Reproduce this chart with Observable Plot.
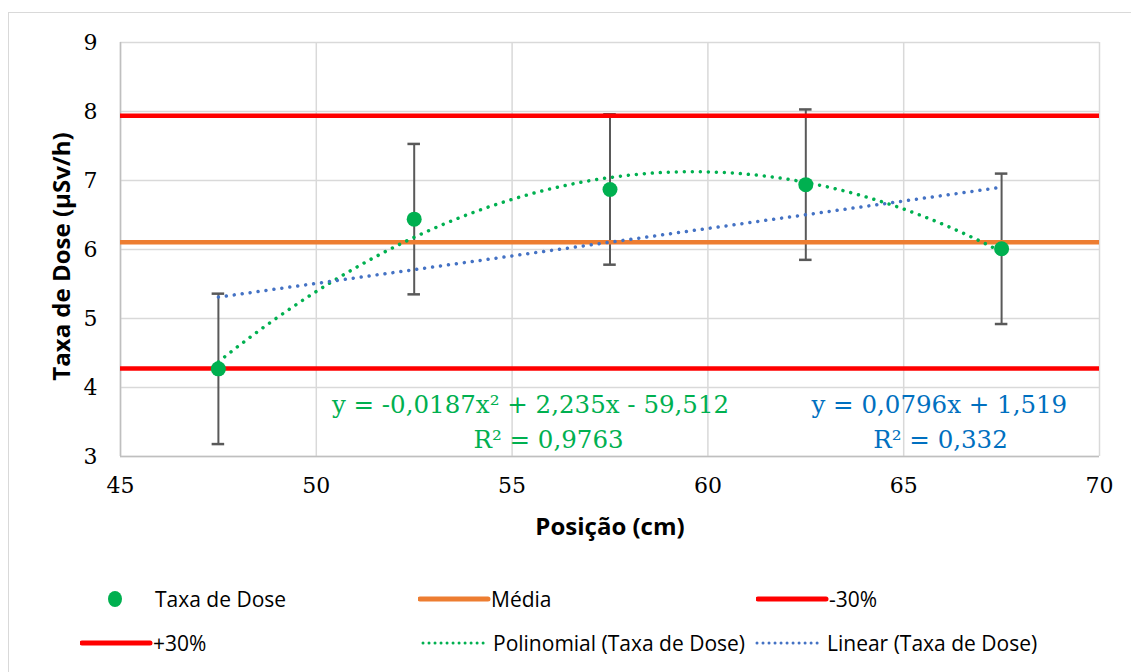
<!DOCTYPE html>
<html><head><meta charset="utf-8">
<script src="https://cdn.jsdelivr.net/npm/d3@7"></script>
<script src="https://cdn.jsdelivr.net/npm/@observablehq/plot@0.6"></script>
<style>
body{margin:0;background:#fff;overflow:hidden;width:1131px;height:672px;position:relative;}
#frame{position:absolute;left:8px;top:12px;width:1200px;height:700px;border:1px solid #d9d9d9;box-sizing:border-box}
#chart{position:absolute;left:0;top:0}
.item{position:absolute;display:flex;align-items:center;font-family:"Open Sans",sans-serif;font-size:21px;color:#000;white-space:nowrap;height:30px;transform:translateY(-50%)}
.item svg{display:block}
</style></head><body>
<div id="frame"></div><div id="chart"></div><div id="legend"></div>
<script>
// Data
const positions = [47.5, 52.5, 57.5, 62.5, 67.5];
const doseRates = [4.27, 6.44, 6.87, 6.94, 6.01];
const errorBars = [1.09, 1.09, 1.09, 1.09, 1.09];
const xTicks = [45, 50, 55, 60, 65, 70];
const yTicks = [3, 4, 5, 6, 7, 8, 9];
const polyEquation = "y = -0,0187x² + 2,235x - 59,512";
const polyR2 = "R² = 0,9763";
const linEquation = "y = 0,0796x + 1,519";
const linR2 = "R² = 0,332";
const legendLabels = ["Taxa de Dose", "Média", "-30%", "+30%", "Polinomial (Taxa de Dose)", "Linear (Taxa de Dose)"];

const data = positions.map((x, i) => ({x, y: doseRates[i], e: errorBars[i]}));
const mean = d3.mean(doseRates);
const minus30 = mean * 0.7, plus30 = mean * 1.3;

// least squares quadratic fit (as the chart's polynomial trendline)
function polyfit(xs, ys, deg) {
  const n = deg + 1;
  const A = Array.from({length: n}, () => new Array(n + 1).fill(0));
  for (let k = 0; k < xs.length; k++) {
    for (let i = 0; i < n; i++) {
      for (let j = 0; j < n; j++) A[i][j] += Math.pow(xs[k], i + j);
      A[i][n] += ys[k] * Math.pow(xs[k], i);
    }
  }
  for (let i = 0; i < n; i++) {
    let p = i;
    for (let r = i + 1; r < n; r++) if (Math.abs(A[r][i]) > Math.abs(A[p][i])) p = r;
    [A[i], A[p]] = [A[p], A[i]];
    for (let r = 0; r < n; r++) {
      if (r === i) continue;
      const f = A[r][i] / A[i][i];
      for (let c = i; c <= n; c++) A[r][c] -= f * A[i][c];
    }
  }
  return A.map((row, i) => row[n] / row[i]);
}
const coef = polyfit(positions, doseRates, 2);
const polyCurve = d3.range(d3.min(positions), d3.max(positions) + 1e-9, 0.1)
  .map(x => ({x, y: coef[0] + coef[1] * x + coef[2] * x * x}));

const GREEN = "#00b050", ORANGE = "#ed7d31", RED = "#ff0000", BLUE = "#4472c4", EQBLUE = "#0070c0";
const SERIF = "DejaVu Serif";

const chart = Plot.plot({
  width: 1131,
  height: 560,
  marginLeft: 120,
  marginRight: 32,
  marginTop: 42,
  marginBottom: 104,
  style: {fontFamily: SERIF, fontSize: "22px", color: "#000", background: "transparent"},
  x: {domain: [45, 70]},
  y: {domain: [3, 9]},
  marks: [
    Plot.gridX(xTicks, {stroke: "#d9d9d9", strokeOpacity: 1, strokeWidth: 1.5}),
    Plot.gridY(yTicks, {stroke: "#d9d9d9", strokeOpacity: 1, strokeWidth: 1.5}),
    Plot.ruleX([45], {stroke: "#bfbfbf", strokeWidth: 1.5}),
    Plot.ruleY([3], {stroke: "#bfbfbf", strokeWidth: 1.5}),
    Plot.axisX(xTicks, {tickSize: 0, tickPadding: 21, label: null, fontSize: 22, fontFamily: SERIF, tickFormat: d => String(d)}),
    Plot.axisY(yTicks, {tickSize: 0, tickPadding: 23, label: null, fontSize: 22, fontFamily: SERIF, tickFormat: d => String(d)}),
    // error bars
    Plot.ruleX(data, {x: "x", y1: d => d.y - d.e, y2: d => d.y + d.e, stroke: "#595959", strokeWidth: 2}),
    Plot.ruleY(data, {y: d => d.y - d.e, x1: d => d.x - 0.16, x2: d => d.x + 0.16, stroke: "#595959", strokeWidth: 2.5}),
    Plot.ruleY(data, {y: d => d.y + d.e, x1: d => d.x - 0.16, x2: d => d.x + 0.16, stroke: "#595959", strokeWidth: 2.5}),
    // mean and ±30%
    Plot.ruleY([mean], {stroke: ORANGE, strokeWidth: 4.5}),
    Plot.ruleY([minus30], {stroke: RED, strokeWidth: 4.5}),
    Plot.ruleY([plus30], {stroke: RED, strokeWidth: 4.5}),
    // points
    Plot.dot(data, {x: "x", y: "y", r: 7.5, fill: GREEN}),
    // trendlines
    Plot.line(polyCurve, {x: "x", y: "y", stroke: GREEN, strokeWidth: 3.5, strokeDasharray: "0.01 8", strokeLinecap: "round"}),
    Plot.linearRegressionY(data, {x: "x", y: "y", stroke: BLUE, strokeWidth: 3.5, strokeDasharray: "0.01 8", strokeLinecap: "round", ci: 0}),
    // trendline labels
    Plot.text([polyEquation], {x: 55.47, y: 3.74, text: d => d, fill: GREEN, fontSize: 24.5, fontFamily: SERIF}),
    Plot.text([polyR2], {x: 55.93, y: 3.23, text: d => d, fill: GREEN, fontSize: 24.5, fontFamily: SERIF}),
    Plot.text([linEquation], {x: 65.91, y: 3.74, text: d => d, fill: EQBLUE, fontSize: 24.5, fontFamily: SERIF}),
    Plot.text([linR2], {x: 65.94, y: 3.23, text: d => d, fill: EQBLUE, fontSize: 24.5, fontFamily: SERIF}),
    // axis titles
    Plot.text(["Posição (cm)"], {frameAnchor: "bottom", dy: 71, text: d => d, fontFamily: "Open Sans", fontWeight: "bold", fontSize: 24, fill: "#000", lineAnchor: "middle"}),
    Plot.text(["Taxa de Dose (µSv/h)"], {frameAnchor: "left", dx: -58, dy: 7, rotate: -90, textAnchor: "middle", lineAnchor: "middle", text: d => d, fontFamily: "Open Sans", fontWeight: "bold", fontSize: 24, fill: "#000"})
  ]
});
document.getElementById("chart").appendChild(chart);

// HTML legend
const legend = document.getElementById("legend");
const swatches = [
  {label: legendLabels[0], left: 107, top: 599, kind: "dot", color: GREEN},
  {label: legendLabels[1], left: 418, top: 599, kind: "line", color: ORANGE},
  {label: legendLabels[2], left: 756, top: 599, kind: "line", color: RED},
  {label: legendLabels[3], left: 80, top: 643, kind: "line", color: RED},
  {label: legendLabels[4], left: 420, top: 643, kind: "dots", color: GREEN},
  {label: legendLabels[5], left: 754, top: 643, kind: "dots", color: BLUE}
];
for (const s of swatches) {
  const div = document.createElement("div");
  div.className = "item";
  div.style.left = s.left + "px";
  div.style.top = s.top + "px";
  let svg;
  if (s.kind === "dot") {
    svg = `<svg width="48" height="20"><ellipse cx="8" cy="10" rx="7" ry="8" fill="${s.color}"/></svg>`;
  } else if (s.kind === "line") {
    svg = `<svg width="73" height="20"><line x1="2" x2="70" y1="10" y2="10" stroke="${s.color}" stroke-width="5" stroke-linecap="round"/></svg>`;
  } else {
    svg = `<svg width="73" height="20"><line x1="3" x2="68" y1="10" y2="10" stroke="${s.color}" stroke-width="3" stroke-dasharray="0.01 6" stroke-linecap="round"/></svg>`;
  }
  div.innerHTML = svg + `<span>${s.label}</span>`;
  legend.appendChild(div);
}
</script>
</body></html>
